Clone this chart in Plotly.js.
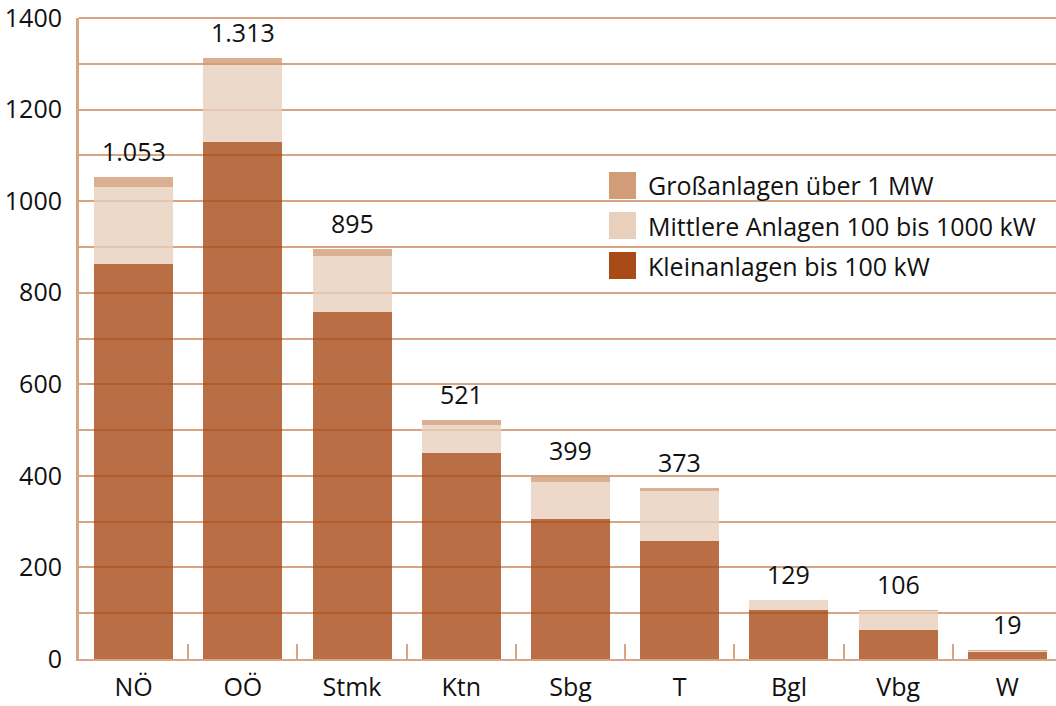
<!DOCTYPE html>
<html>
<head>
<meta charset="utf-8">
<script src="https://cdn.plot.ly/plotly-3.0.1.min.js"></script>
<style>
html,body{margin:0;padding:0;background:#fff;overflow:hidden;}
#chart{width:1056px;height:706px;}
</style>
</head>
<body>
<div id="chart"></div>
<script>
// ---- data ----
const categories = ['NÖ', 'OÖ', 'Stmk', 'Ktn', 'Sbg', 'T', 'Bgl', 'Vbg', 'W'];
const klein    = [862, 1129, 758, 450, 306, 258, 106, 64, 15];
const mittlere = [169,  168, 122,  61,  81, 109,  22, 41,  3];
const gross    = [ 22,   16,  15,  10,  12,   6,   1,  1,  1];
const totals   = [1053, 1313, 895, 521, 399, 373, 129, 106, 19];
const seriesNames = ['Großanlagen über 1 MW', 'Mittlere Anlagen 100 bis 1000 kW', 'Kleinanlagen bis 100 kW'];
const seriesColors = ['#D19C77', '#E9D0BD', '#A84B17'];

const FONT = 'Open Sans, Liberation Sans, sans-serif';
const FS = 25;
const TAN = '#D8A582';

function fmtDE(n) {
  return String(n).replace(/\B(?=(\d{3})+(?!\d))/g, '.');
}

const traces = [
  {type: 'bar', x: categories, y: klein, name: seriesNames[2],
   marker: {color: seriesColors[2], line: {width: 0}}, opacity: 0.8, showlegend: false, hoverinfo: 'y'},
  {type: 'bar', x: categories, y: mittlere, name: seriesNames[1],
   marker: {color: seriesColors[1], line: {width: 0}}, opacity: 0.8, showlegend: false, hoverinfo: 'y'},
  {type: 'bar', x: categories, y: gross, name: seriesNames[0],
   marker: {color: seriesColors[0], line: {width: 0}}, opacity: 0.8, showlegend: false, hoverinfo: 'y'}
];

// total labels above bars
const annotations = categories.map((c, i) => ({
  x: c, y: totals[i], xref: 'x', yref: 'y',
  text: fmtDE(totals[i]), showarrow: false,
  yanchor: 'bottom', yshift: 7,
  font: {family: FONT, size: FS, color: '#111'}
}));

// custom legend (swatches + labels) in paper coordinates
const plotL = 79, plotT = 18, plotW = 977, plotH = 641;
const legX = 609, legSw = 27, legTextX = 646;
const legRowsY = [185.5, 225.5, 265.5];
const shapes = [
  // top frame gridline
  {type: 'line', xref: 'paper', yref: 'paper', x0: 0, x1: 1, y0: 1, y1: 1,
   line: {color: TAN, width: 2}, layer: 'below'}
];
seriesNames.forEach((nm, k) => {
  const cy = legRowsY[k];
  shapes.push({
    type: 'rect', xref: 'paper', yref: 'paper', layer: 'above',
    x0: (legX - plotL) / plotW, x1: (legX + legSw - plotL) / plotW,
    y0: (plotT + plotH - (cy + legSw / 2)) / plotH, y1: (plotT + plotH - (cy - legSw / 2)) / plotH,
    fillcolor: seriesColors[k], line: {width: 0}
  });
  annotations.push({
    xref: 'paper', yref: 'paper',
    x: (legTextX - plotL) / plotW, y: (plotT + plotH - cy) / plotH,
    xanchor: 'left', yanchor: 'middle', showarrow: false,
    text: nm, font: {family: FONT, size: FS, color: '#111'}
  });
});

const layout = {
  width: 1056, height: 706,
  margin: {l: 79, r: 0, t: 18, b: 47, pad: 0},
  paper_bgcolor: '#fff', plot_bgcolor: '#fff',
  barmode: 'stack', bargap: 0.277,
  font: {family: FONT, size: FS, color: '#111'},
  xaxis: {
    type: 'category', range: [-0.5, 8.445],
    tickson: 'boundaries', ticks: 'inside', ticklen: 15, tickwidth: 2, tickcolor: TAN,
    showline: true, linecolor: TAN, linewidth: 2,
    showgrid: false, zeroline: false, ticklabelstandoff: 5,
    tickfont: {family: FONT, size: FS, color: '#111'}
  },
  yaxis: {
    range: [0, 1400], dtick: 200, tick0: 0,
    showgrid: true, gridcolor: TAN, gridwidth: 2,
    minor: {dtick: 100, showgrid: true, gridcolor: TAN, gridwidth: 2},
    showline: true, linecolor: TAN, linewidth: 3,
    zeroline: false, ticks: '', ticklabelstandoff: 9,
    ticklabeloverflow: 'allow',
    tickfont: {family: FONT, size: FS, color: '#111'}
  },
  shapes: shapes,
  annotations: annotations,
  showlegend: false
};

Plotly.newPlot('chart', traces, layout, {displayModeBar: false, staticPlot: true});
</script>
</body>
</html>
